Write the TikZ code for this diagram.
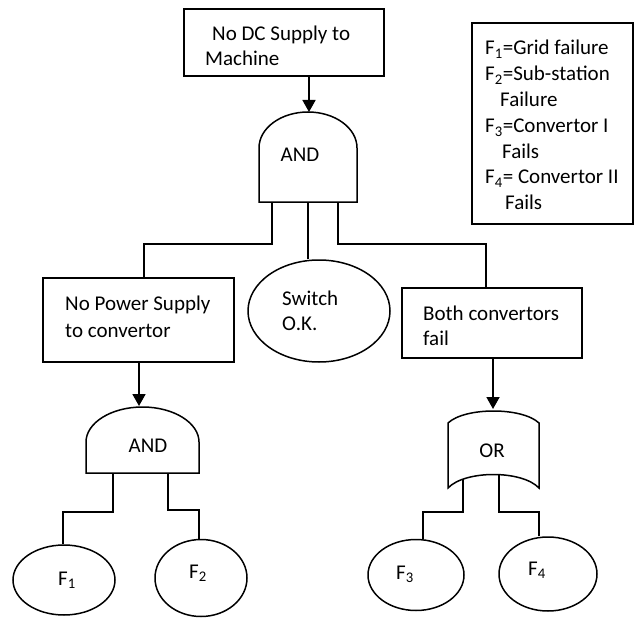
\documentclass[tikz,border=0pt]{standalone}
\usepackage{fontspec}
\setmainfont{Carlito}
\usetikzlibrary{arrows.meta,shapes.geometric}
\begin{document}
\begin{tikzpicture}[x=1bp,y=-1bp,
  every node/.style={font=\fontsize{21bp}{25.5bp}\selectfont},
  ln/.style={line width=1.5bp},
  boxn/.style={draw,line width=1.5bp,rectangle,inner sep=0pt},
  elln/.style={draw,line width=1.5bp,ellipse,inner sep=0pt},
  txt/.style={inner sep=0pt,anchor=base west},
  ctxt/.style={inner sep=0pt},
  arr/.style={line width=1.8bp,-{Triangle[length=12bp,width=13bp]}}]
\useasboundingbox (0,0) rectangle (638,618);
% boxes
\node[boxn,minimum width=200bp,minimum height=67bp] (top) at (284,42.5) {};
\node[boxn,minimum width=191bp,minimum height=84bp] (lbox) at (138.5,320) {};
\node[boxn,minimum width=180bp,minimum height=70bp] (rbox) at (492,323) {};
\node[boxn,minimum width=161bp,minimum height=201bp] (leg) at (552.5,123.5) {};
% ellipses
\node[elln,minimum width=142bp,minimum height=102bp] (sw) at (319,311) {};
\node[elln,minimum width=102bp,minimum height=70bp] (f1) at (64,580) {};
\node[elln,minimum width=92bp,minimum height=77bp] (f2) at (201,578) {};
\node[elln,minimum width=96bp,minimum height=71bp] (f3) at (416,575) {};
\node[elln,minimum width=98bp,minimum height=74bp] (f4) at (548,574) {};
% gates
\draw[ln] (259,202) -- (259,148) .. controls (259,128) and (281,112) .. (308,112)
  .. controls (335,112) and (357,128) .. (357,148) -- (357,202) -- cycle;
\draw[ln] (86,473) -- (86,442) .. controls (86,423) and (111,407) .. (142.5,407)
  .. controls (174,407) and (199,423) .. (199,442) -- (199,473) -- cycle;
\draw[ln] (448,488) -- (448,423) .. controls (465,407) and (522,407) .. (539,423)
  -- (539,488) .. controls (522,470) and (465,470) .. (448,488) -- cycle;
\node[ctxt] (and1) at (300,155) {AND};
\node[ctxt] (and2) at (148,446) {AND};
\node[ctxt] (or) at (492,451) {OR};
% gate connection points
\coordinate (a1in) at (309,112);
\coordinate (a1l) at (272,202);
\coordinate (a1m) at (308,202);
\coordinate (a1r) at (338,202);
\coordinate (j1) at (144,244);
\coordinate (j2) at (486,244);
\coordinate (a2in) at (139,406);
\coordinate (a2l) at (113,473);
\coordinate (a2r) at (168,473);
\coordinate (j3) at (63,512);
\coordinate (j4) at (199,510);
\coordinate (oin) at (493,409);
\coordinate (ol) at (463,479);
\coordinate (or) at (499,474);
\coordinate (j5) at (423,512);
\coordinate (j6) at (539,512);
% arrows
\draw[arr] (a1in |- top.south) -- (a1in);
\draw[arr] (a2in |- lbox.south) -- (a2in);
\draw[arr] (oin |- rbox.south) -- (oin);
% connectors
\draw[ln] (a1l) |- (j1) -- (j1 |- lbox.north);
\draw[ln] (a1m) -- (a1m |- sw.north);
\draw[ln] (a1r) |- (j2) -- (j2 |- rbox.north);
\draw[ln] (a2l) |- (j3) -- (j3 |- f1.north);
\draw[ln] (a2r) |- (j4) -- (j4 |- f2.north);
\draw[ln] (ol) |- (j5) -- (j5 |- f3.north);
\draw[ln] (or) |- (j6) -- (j6 |- f4.north);
% texts
\node[txt] (t1) at (212,41) {No DC Supply to};
\node[txt] (t2) at (205,66) {Machine};
\node[txt] (t3) at (65,310) {No Power Supply};
\node[txt] (t4) at (65,337) {to convertor};
\node[txt] (t5) at (282,305) {Switch};
\node[txt] (t6) at (282,330) {O.K.};
\node[txt] (t7) at (423,320) {Both convertors};
\node[txt] (t8) at (423,345) {fail};
\node[ctxt] (l1) at (67,580) {F\textsubscript{1}};
\node[ctxt] (l2) at (198,573) {F\textsubscript{2}};
\node[ctxt] (l3) at (405,574) {F\textsubscript{3}};
\node[ctxt] (l4) at (537,570) {F\textsubscript{4}};
% legend
\node[txt] (g1) at (485,55) {F\textsubscript{1}=Grid failure};
\node[txt] (g2) at (485,81) {F\textsubscript{2}=Sub-station};
\node[txt] (g3) at (500,106.5) {Failure};
\node[txt] (g4) at (485,133) {F\textsubscript{3}=Convertor I};
\node[txt] (g5) at (502,158.5) {Fails};
\node[txt] (g6) at (485,184) {F\textsubscript{4}= Convertor II};
\node[txt] (g7) at (505,209.5) {Fails};
\end{tikzpicture}
\end{document}
